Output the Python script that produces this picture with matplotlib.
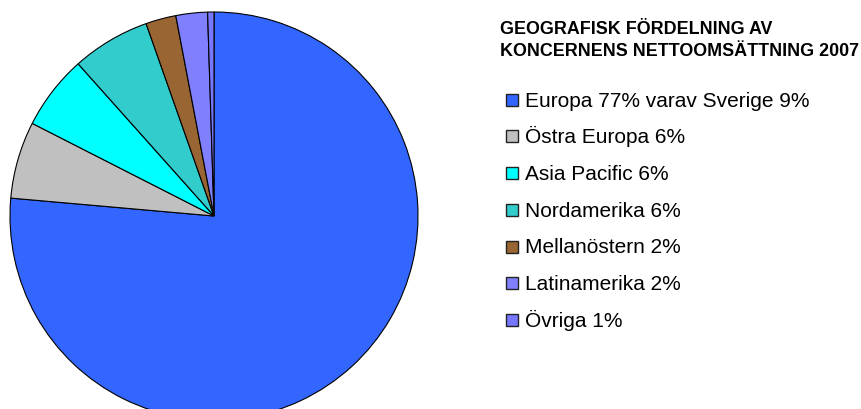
import matplotlib.pyplot as plt
from matplotlib.patches import Rectangle

plt.rcParams['font.family'] = ['Liberation Sans', 'DejaVu Sans']

labels = ["Europa 77% varav Sverige 9%", "Östra Europa 6%", "Asia Pacific 6%",
          "Nordamerika 6%", "Mellanöstern 2%", "Latinamerika 2%", "Övriga 1%"]
values = [76.4, 6.1, 5.9, 6.2, 2.4, 2.5, 0.5]
colors = ["#3366FF", "#C0C0C0", "#00FFFF", "#33CCCC", "#996633", "#8080FF", "#7777FF"]
title_lines = ["GEOGRAFISK FÖRDELNING AV", "KONCERNENS NETTOOMSÄTTNING 2007"]

W, H = 862, 410
fig = plt.figure(figsize=(W / 100, H / 100), dpi=100)

cx, cy, r = 214, 217, 204
ax = fig.add_axes([(cx - r) / W, (H - cy - r) / H, 2 * r / W, 2 * r / H])
ax.pie(values, colors=colors, startangle=90, counterclock=False,
       wedgeprops=dict(edgecolor="black", linewidth=0.8))
ax.set_xlim(-1, 1)
ax.set_ylim(-1, 1)
ax.set_aspect("equal")
ax.axis("off")

# title, baselines in pixels from top
for line, base in zip(title_lines, [34, 55.7]):
    fig.text(500 / W, 1 - base / H, line, fontsize=12.9, fontweight="bold",
             va="baseline", ha="left")

# legend drawn by hand so the rows are evenly spaced
for i, (lab, c) in enumerate(zip(labels, colors)):
    base = 106.7 + i * 36.7
    fig.add_artist(Rectangle((506 / W, 1 - base / H), 12 / W, 12 / H,
                             transform=fig.transFigure, facecolor=c,
                             edgecolor="#222222", linewidth=1.0))
    fig.text(525 / W, 1 - base / H, lab, fontsize=15, va="baseline", ha="left")

fig.savefig("out.png", dpi=100)
